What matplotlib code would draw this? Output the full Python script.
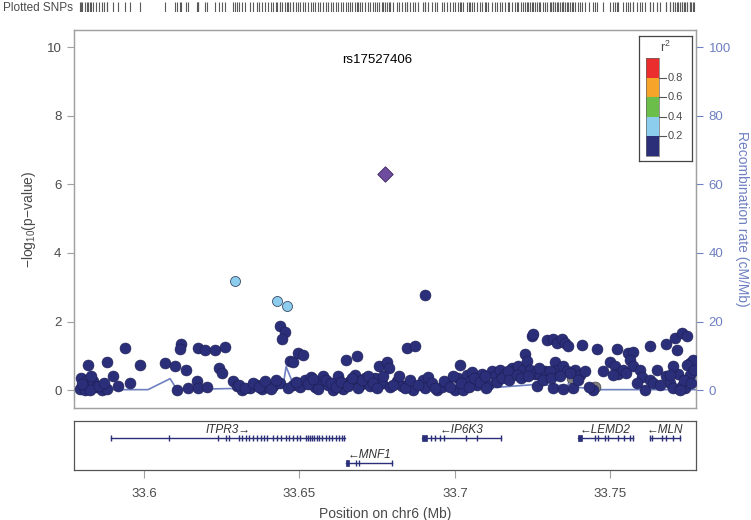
import matplotlib
matplotlib.use("Agg")
import matplotlib.pyplot as plt
from matplotlib.patches import Rectangle

plt.rcParams['font.family'] = ['Liberation Sans', 'DejaVu Sans']
plt.rcParams['mathtext.fontset'] = 'custom'
plt.rcParams['mathtext.rm'] = 'Liberation Sans'

# ---------------- data ----------------
lead_name = "rs17527406"
lead_pos = 33.6775
lead_logp = 6.31

# r2 0.2-0.4 (light blue)
lb_pos = [33.6293, 33.6429, 33.6459]
lb_logp = [3.19, 2.59, 2.44]

# no LD info (gray)
gray_pos = [33.7375, 33.7450]
gray_logp = [0.36, 0.09]

# r2 < 0.2 (navy)
nv_pos = [33.5797, 33.5794, 33.5821, 33.5816, 33.5810, 33.5837, 33.5846, 33.5826, 33.5864, 33.5882,
          33.5882, 33.5901, 33.5917, 33.5939, 33.5955, 33.5987, 33.6068, 33.6100, 33.6135, 33.6105,
          33.6142, 33.6118, 33.6116, 33.6175, 33.6196, 33.6228, 33.6260, 33.6242, 33.6250, 33.6169,
          33.6175, 33.6202, 33.6287, 33.6298, 33.6314, 33.6341, 33.6362, 33.6378, 33.6400, 33.6416,
          33.6437, 33.6469, 33.6480, 33.6496, 33.6510, 33.6480, 33.6502, 33.6518, 33.6536, 33.6550,
          33.6566, 33.6577, 33.6593, 33.6609, 33.6625, 33.6639, 33.6649, 33.6684, 33.6662, 33.6678,
          33.6694, 33.6711, 33.6727, 33.6743, 33.6757, 33.6780, 33.6789, 33.6764, 33.6791, 33.6812,
          33.6829, 33.6845, 33.6845, 33.6437, 33.6453, 33.6443, 33.6871, 33.6866, 33.6898, 33.6914,
          33.6903, 33.6941, 33.6957, 33.6973, 33.7000, 33.7016, 33.7011, 33.7027, 33.7038, 33.7048,
          33.7054, 33.7070, 33.7086, 33.7107, 33.7118, 33.7129, 33.7145, 33.7161, 33.7182, 33.7193,
          33.7203, 33.7220, 33.7225, 33.7230, 33.7247, 33.7252, 33.7241, 33.7263, 33.7257, 33.7273,
          33.7289, 33.7295, 33.7316, 33.7327, 33.7343, 33.7354, 33.7364, 33.7321, 33.7316, 33.7332,
          33.7348, 33.7359, 33.7316, 33.7348, 33.7380, 33.7386, 33.7402, 33.7418, 33.7407, 33.7456,
          33.7445, 33.7498, 33.7514, 33.7525, 33.7520, 33.7541, 33.7557, 33.7573, 33.7563, 33.7573,
          33.7595, 33.7600, 33.7611, 33.7627, 33.7627, 33.7648, 33.7637, 33.7680, 33.7707, 33.7713,
          33.7729, 33.7745, 33.7680, 33.7691, 33.7702, 33.7718, 33.7729, 33.7739, 33.7755, 33.7755,
          33.7764, 33.7723, 33.7702, 33.7745, 33.6904,
          # densely overlapping points in the baseline band
          33.5800, 33.5830, 33.5855, 33.5870,
          33.6305, 33.6325, 33.6350, 33.6370, 33.6390, 33.6410, 33.6425, 33.6462, 33.6490, 33.6528,
          33.6545, 33.6560, 33.6585, 33.6600, 33.6618, 33.6632, 33.6655, 33.6670, 33.6688, 33.6702,
          33.6720, 33.6735, 33.6750, 33.6770, 33.6800, 33.6820, 33.6838, 33.6855,
          33.6880, 33.6925, 33.6935, 33.6965, 33.6985, 33.6995, 33.7020, 33.7045, 33.7060, 33.7080,
          33.7095, 33.7100, 33.7135, 33.7150, 33.7170, 33.7175, 33.7200, 33.7212, 33.7236, 33.7270,
          33.7282, 33.7305, 33.7310, 33.7338, 33.7370, 33.7395, 33.7430, 33.7475, 33.7508, 33.7550,
          33.7585, 33.7660, 33.7690, 33.7735, 33.7760, 33.7770]
nv_logp = [0.36, 0.03, 0.72, 0.31, 0.01, 0.26, 0.09, 0.01, 0.00, 0.02,
           0.81, 0.40, 0.13, 1.23, 0.21, 0.73, 0.79, 0.71, 0.58, 0.01,
           0.06, 1.35, 1.20, 1.23, 1.18, 1.18, 1.26, 0.65, 0.50, 0.26,
           0.06, 0.09, 0.26, 0.11, 0.00, 0.06, 0.16, 0.03, 0.09, 0.13,
           0.21, 0.86, 0.81, 1.08, 1.03, 0.16, 0.09, 0.31, 0.38, 0.09,
           0.26, 0.40, 0.16, 0.01, 0.40, 0.03, 0.89, 0.99, 0.26, 0.45,
           0.16, 0.36, 0.11, 0.36, 0.69, 0.81, 0.65, 0.21, 0.09, 0.26,
           0.11, 1.23, 0.16, 1.86, 1.71, 1.49, 1.28, 0.01, 0.31, 0.38,
           0.06, 0.00, 0.09, 0.21, 0.01, 0.74, 0.36, 0.01, 0.45, 0.26,
           0.52, 0.16, 0.48, 0.16, 0.55, 0.42, 0.58, 0.48, 0.65, 0.55,
           0.71, 0.60, 1.06, 0.84, 1.59, 1.64, 0.60, 0.11, 0.48, 0.45,
           0.55, 1.45, 1.49, 1.38, 1.49, 1.38, 1.28, 0.81, 0.45, 0.60,
           0.69, 0.55, 0.06, 0.03, 0.06, 0.58, 0.45, 0.55, 1.33, 1.20,
           0.01, 0.81, 0.69, 0.48, 1.20, 0.60, 1.08, 1.10, 0.87, 0.69,
           0.60, 0.38, 0.01, 1.28, 0.31, 0.58, 0.21, 1.36, 1.52, 1.18,
           1.67, 1.59, 0.40, 0.21, 0.06, 0.48, 0.13, 0.06, 0.45, 0.79,
           0.87, 0.01, 0.69, 0.74, 2.76,
           0.18, 0.40, 0.12, 0.22,
           0.15, 0.05, 0.22, 0.08, 0.28, 0.04, 0.30, 0.05, 0.25, 0.18,
           0.33, 0.04, 0.30, 0.20, 0.10, 0.25, 0.12, 0.35, 0.05, 0.30,
           0.42, 0.20, 0.05, 0.40, 0.15, 0.40, 0.05, 0.30,
           0.15, 0.20, 0.05, 0.28, 0.10, 0.40, 0.22, 0.10, 0.35, 0.25,
           0.40, 0.05, 0.25, 0.35, 0.55, 0.30, 0.45, 0.35, 0.40, 0.65,
           0.30, 0.55, 0.35, 0.40, 0.50, 0.30, 0.10, 0.55, 0.45, 0.50,
           0.20, 0.15, 0.45, 0.30, 0.20, 0.60]

# recombination rate
rec_pos = [33.5775, 33.6013, 33.6084, 33.6106, 33.6399, 33.6447, 33.6457, 33.6486,
           33.6823, 33.7035, 33.7251, 33.7363, 33.7370, 33.7376, 33.7466, 33.7775]
rec_rate = [0.15, 0.15, 3.35, 0.15, 0.7, 1.0, 6.85, 0.45,
            0.45, 0.15, 1.6, 1.3, 3.9, 1.0, 0.15, 0.15]

# genes
gene_names = ["ITPR3", "MNF1", "IP6K3", "LEMD2", "MLN"]
gene_strand = ["+", "-", "-", "-", "-"]
gene_row = [0, 1, 0, 0, 0]
gene_start = [33.5894, 33.6650, 33.6895, 33.7394, 33.7627]
gene_end = [33.6647, 33.6799, 33.7149, 33.7573, 33.7722]
gene_exons = [
    [33.5894, 33.6082, 33.6237, 33.6263, 33.6273, 33.6305, 33.6315, 33.6329, 33.6339, 33.6350,
     33.6365, 33.6376, 33.6386, 33.6396, 33.6414, 33.6428, 33.6442, 33.6456, 33.6466, 33.6478,
     33.6492, 33.6503, 33.6520, 33.6527, 33.6534, 33.6541, 33.6548, 33.6555, 33.6562, 33.6574,
     33.6584, 33.6594, 33.6605, 33.6616, 33.6626, 33.6636, 33.6644],
    [33.6683, 33.6692, 33.6799],
    [33.6923, 33.6937, 33.6951, 33.6965, 33.7036, 33.7071, 33.7149],
    [33.7450, 33.7460, 33.7481, 33.7493, 33.7524, 33.7545, 33.7563, 33.7571],
    [33.7627, 33.7634, 33.7665, 33.7679, 33.7700, 33.7722],
]
gene_utr = [None, (33.6650, 33.6658), (33.6895, 33.6909), (33.7394, 33.7408), None]

legend_labels = ["0.8", "0.6", "0.4", "0.2"]
legend_colors = ["#EC2D2E", "#F6A42A", "#6BBE4A", "#8CCDEE", "#2B2E78"]

xticks = [33.6, 33.65, 33.7, 33.75]
yticks = [0, 2, 4, 6, 8, 10]
rticks = [0, 20, 40, 60, 80, 100]

# ---------------- style ----------------
NAVY = "#2B2E78"
LBLUE = "#8CCDEE"
PURPLE = "#6E4C9E"
RECCOL = "#6F80C2"
SPINE = "#A0A0A0"
TXT = "#4A4A4A"

W, H = 751, 520
fig = plt.figure(figsize=(W / 100, H / 100), dpi=100)

def fx(px):
    return px / W

def fy(py):
    return 1 - py / H

xlim = (lead_pos - 0.1, lead_pos + 0.1)
L, R = 74, 696

# main axes
ax = fig.add_axes([fx(L), fy(408), fx(R - L), (408 - 30) / H])
ax2 = ax.twinx()
ax.set_zorder(ax2.get_zorder() + 1)
ax.patch.set_visible(False)

ax2.plot(rec_pos, rec_rate, color=RECCOL, lw=1.2, zorder=1)
ax2.set_ylim(-5.2, 105)
ax2.set_yticks(rticks)
ax2.tick_params(axis='y', colors=RECCOL, labelcolor=RECCOL, labelsize=9.5, length=5, width=0.8, pad=4)
ax2.set_ylabel("Recombination rate (cM/Mb)", color=RECCOL, fontsize=10, rotation=270, labelpad=13)

ax.scatter(gray_pos, gray_logp, s=62, c="#808080", edgecolors="#333333", linewidths=0.4, zorder=2)
ax.scatter(nv_pos, nv_logp, s=62, c=NAVY, edgecolors="#1C1E55", linewidths=0.4, zorder=3)
ax.scatter(lb_pos, lb_logp, s=52, c=LBLUE, edgecolors="#3C4A66", linewidths=0.6, zorder=4)
ax.scatter([lead_pos], [lead_logp], s=62, marker='D', c=PURPLE, edgecolors="#3A2460",
           linewidths=0.6, zorder=5)
ax.text(0.487, 9.62, lead_name, transform=ax.get_yaxis_transform(), ha='center', va='center',
        fontsize=9.5, color='black')

ax.set_xlim(*xlim)
ax.set_ylim(-0.52, 10.5)
ax2.set_xlim(*xlim)
ax.set_yticks(yticks)
ax.set_xticks([])
ax.tick_params(axis='y', colors=SPINE, labelcolor=TXT, labelsize=9.5, length=5, width=0.8, pad=4)
ax.set_ylabel("\u2212log$_{10}$(p\u2212value)", color=TXT, fontsize=10, labelpad=6)
for a in (ax, ax2):
    for s in a.spines.values():
        s.set_color(SPINE)
        s.set_linewidth(0.9)

# legend box
lg = fig.add_axes([fx(639), fy(161), fx(52.5), 125.5 / H])
lg.set_xlim(0, 52.5)
lg.set_ylim(125.5, 0)
lg.set_xticks([])
lg.set_yticks([])
lg.set_zorder(10)
for s in lg.spines.values():
    s.set_color("#444444")
    s.set_linewidth(0.9)
lg.text(26, 12, "r$^2$", ha='center', va='center', fontsize=9, color=TXT)
top, hh = 22.6, 19.5
for i, col in enumerate(legend_colors):
    lg.add_patch(Rectangle((7, top + i * hh), 13.3, hh, facecolor=col, edgecolor='none'))
lg.add_patch(Rectangle((7, top), 13.3, hh * len(legend_colors), facecolor='none',
                       edgecolor="#666666", lw=0.5))
for i, lab in enumerate(legend_labels):
    yy = top + (i + 1) * hh
    lg.plot([20.3, 26.5], [yy, yy], color="#555555", lw=0.8)
    lg.text(28.5, yy, lab, ha='left', va='center', fontsize=8, color=TXT)

# rug
rug = fig.add_axes([fx(L), fy(12), fx(R - L), 10 / H])
rug.set_xlim(*xlim)
rug.set_ylim(0, 1)
all_pos = nv_pos + lb_pos + gray_pos + [lead_pos]
rug.vlines(all_pos, 0, 1, color="#5A5A5A", lw=0.8)
rug.axis('off')
fig.text(fx(3), fy(8), "Plotted SNPs", ha='left', va='center', fontsize=8.5, color=TXT)

# gene panel
gx = fig.add_axes([fx(L), fy(470), fx(R - L), 49 / H])
gx.set_xlim(*xlim)
gx.set_ylim(1.28, -0.68)
gx.set_yticks([])
gx.set_xticks(xticks)
gx.set_xticklabels([f"{t:g}" for t in xticks])
gx.tick_params(axis='x', colors=SPINE, labelcolor=TXT, labelsize=9.5, length=6, width=0.8, pad=7)
for s in gx.spines.values():
    s.set_color("#555555")
    s.set_linewidth(0.9)
GC = "#2B2E78"
for name, st, row, g0, g1, ex, utr in zip(gene_names, gene_strand, gene_row, gene_start,
                                         gene_end, gene_exons, gene_utr):
    gx.plot([g0, g1], [row, row], color=GC, lw=1.0)
    gx.vlines(ex, row - 0.12, row + 0.12, color=GC, lw=1.0)
    if utr is not None:
        gx.add_patch(Rectangle((utr[0], row - 0.13), utr[1] - utr[0], 0.26, facecolor=GC,
                               edgecolor=GC, lw=0.5))
    lab = f"{name}\u2192" if st == "+" else f"\u2190{name}"
    gx.text((g0 + g1) / 2, row - 0.33, lab, ha='center', va='center', fontsize=8.5,
            style='italic', color="#333333")

fig.text(fx((L + R) / 2), fy(514), "Position on chr6 (Mb)", ha='center', va='center',
         fontsize=10, color=TXT)

fig.savefig("out.png", dpi=100)
